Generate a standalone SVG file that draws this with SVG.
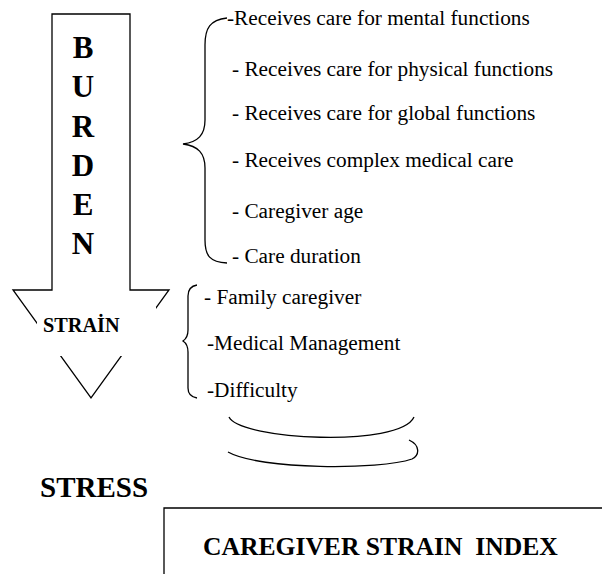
<svg xmlns="http://www.w3.org/2000/svg" width="602" height="574" viewBox="0 0 602 574">
<style>
.ln{fill:none;stroke:#000;stroke-width:1.3}
text{font-family:"Liberation Serif","DejaVu Serif","Times New Roman",Times,serif;fill:#000}
.bd{font-weight:bold}
.it{font-size:21.3px}
</style>
<rect width="602" height="574" fill="#fff"/>
<g id="burden-arrow">
<path class="ln" d="M52,290 L52,14 L130,14 L130,290 L169,290 L91,398 L13,290 Z"/>
<rect x="37" y="307" width="119" height="49" fill="#fff"/>
<g text-anchor="middle">
<text class="bd" x="83" y="58" font-size="31">B</text>
<text class="bd" x="83" y="97" font-size="31">U</text>
<text class="bd" x="83" y="137" font-size="31">R</text>
<text class="bd" x="83" y="176" font-size="31">D</text>
<text class="bd" x="83" y="215" font-size="31">E</text>
<text class="bd" x="83" y="254" font-size="31">N</text>
</g>
<text class="bd" x="43" y="332" font-size="20.3">STRAİN</text>
</g>
<g id="connectors">
<path class="ln" d="M227,18 C210,20 205,28 205,45 L205,120 C205,135 198,142 183,144 C198,146 205,153 205,168 L205,240 C205,256 210,262 227,263"/>
<path class="ln" d="M197,285 C191,286 188,290 188,296 L188,330 C188,336 186,339 183,341 C186,343 188,346 188,352 L188,388 C188,394 191,397 197,398"/>
<path class="ln" d="M229,417 C240,440 400,448 414,417"/>
<path class="ln" d="M409,440 C420,445 420,455 412,459 C380,470 260,470 228,452"/>
</g>
<g id="burden-items">
<text class="it" x="227" y="25">-Receives care for mental functions</text>
<text class="it" x="232" y="76">- Receives care for physical functions</text>
<text class="it" x="232" y="120">- Receives care for global functions</text>
<text class="it" x="232" y="167">- Receives complex medical care</text>
<text class="it" x="232" y="218">- Caregiver age</text>
<text class="it" x="232" y="263">- Care duration</text>
</g>
<g id="strain-items">
<text class="it" x="204" y="304">- Family caregiver</text>
<text class="it" x="207" y="350">-Medical Management</text>
<text class="it" x="207" y="397">-Difficulty</text>
</g>
<g id="stress">
<text class="bd" x="40" y="497" font-size="29">STRESS</text>
</g>
<g id="index-box">
<path class="ln" stroke-width="1.5" d="M164,574 L164,508 L602,508"/>
<text class="bd" x="203" y="555" font-size="25.6">CAREGIVER STRAIN&#160; INDEX</text>
</g>
</svg>
